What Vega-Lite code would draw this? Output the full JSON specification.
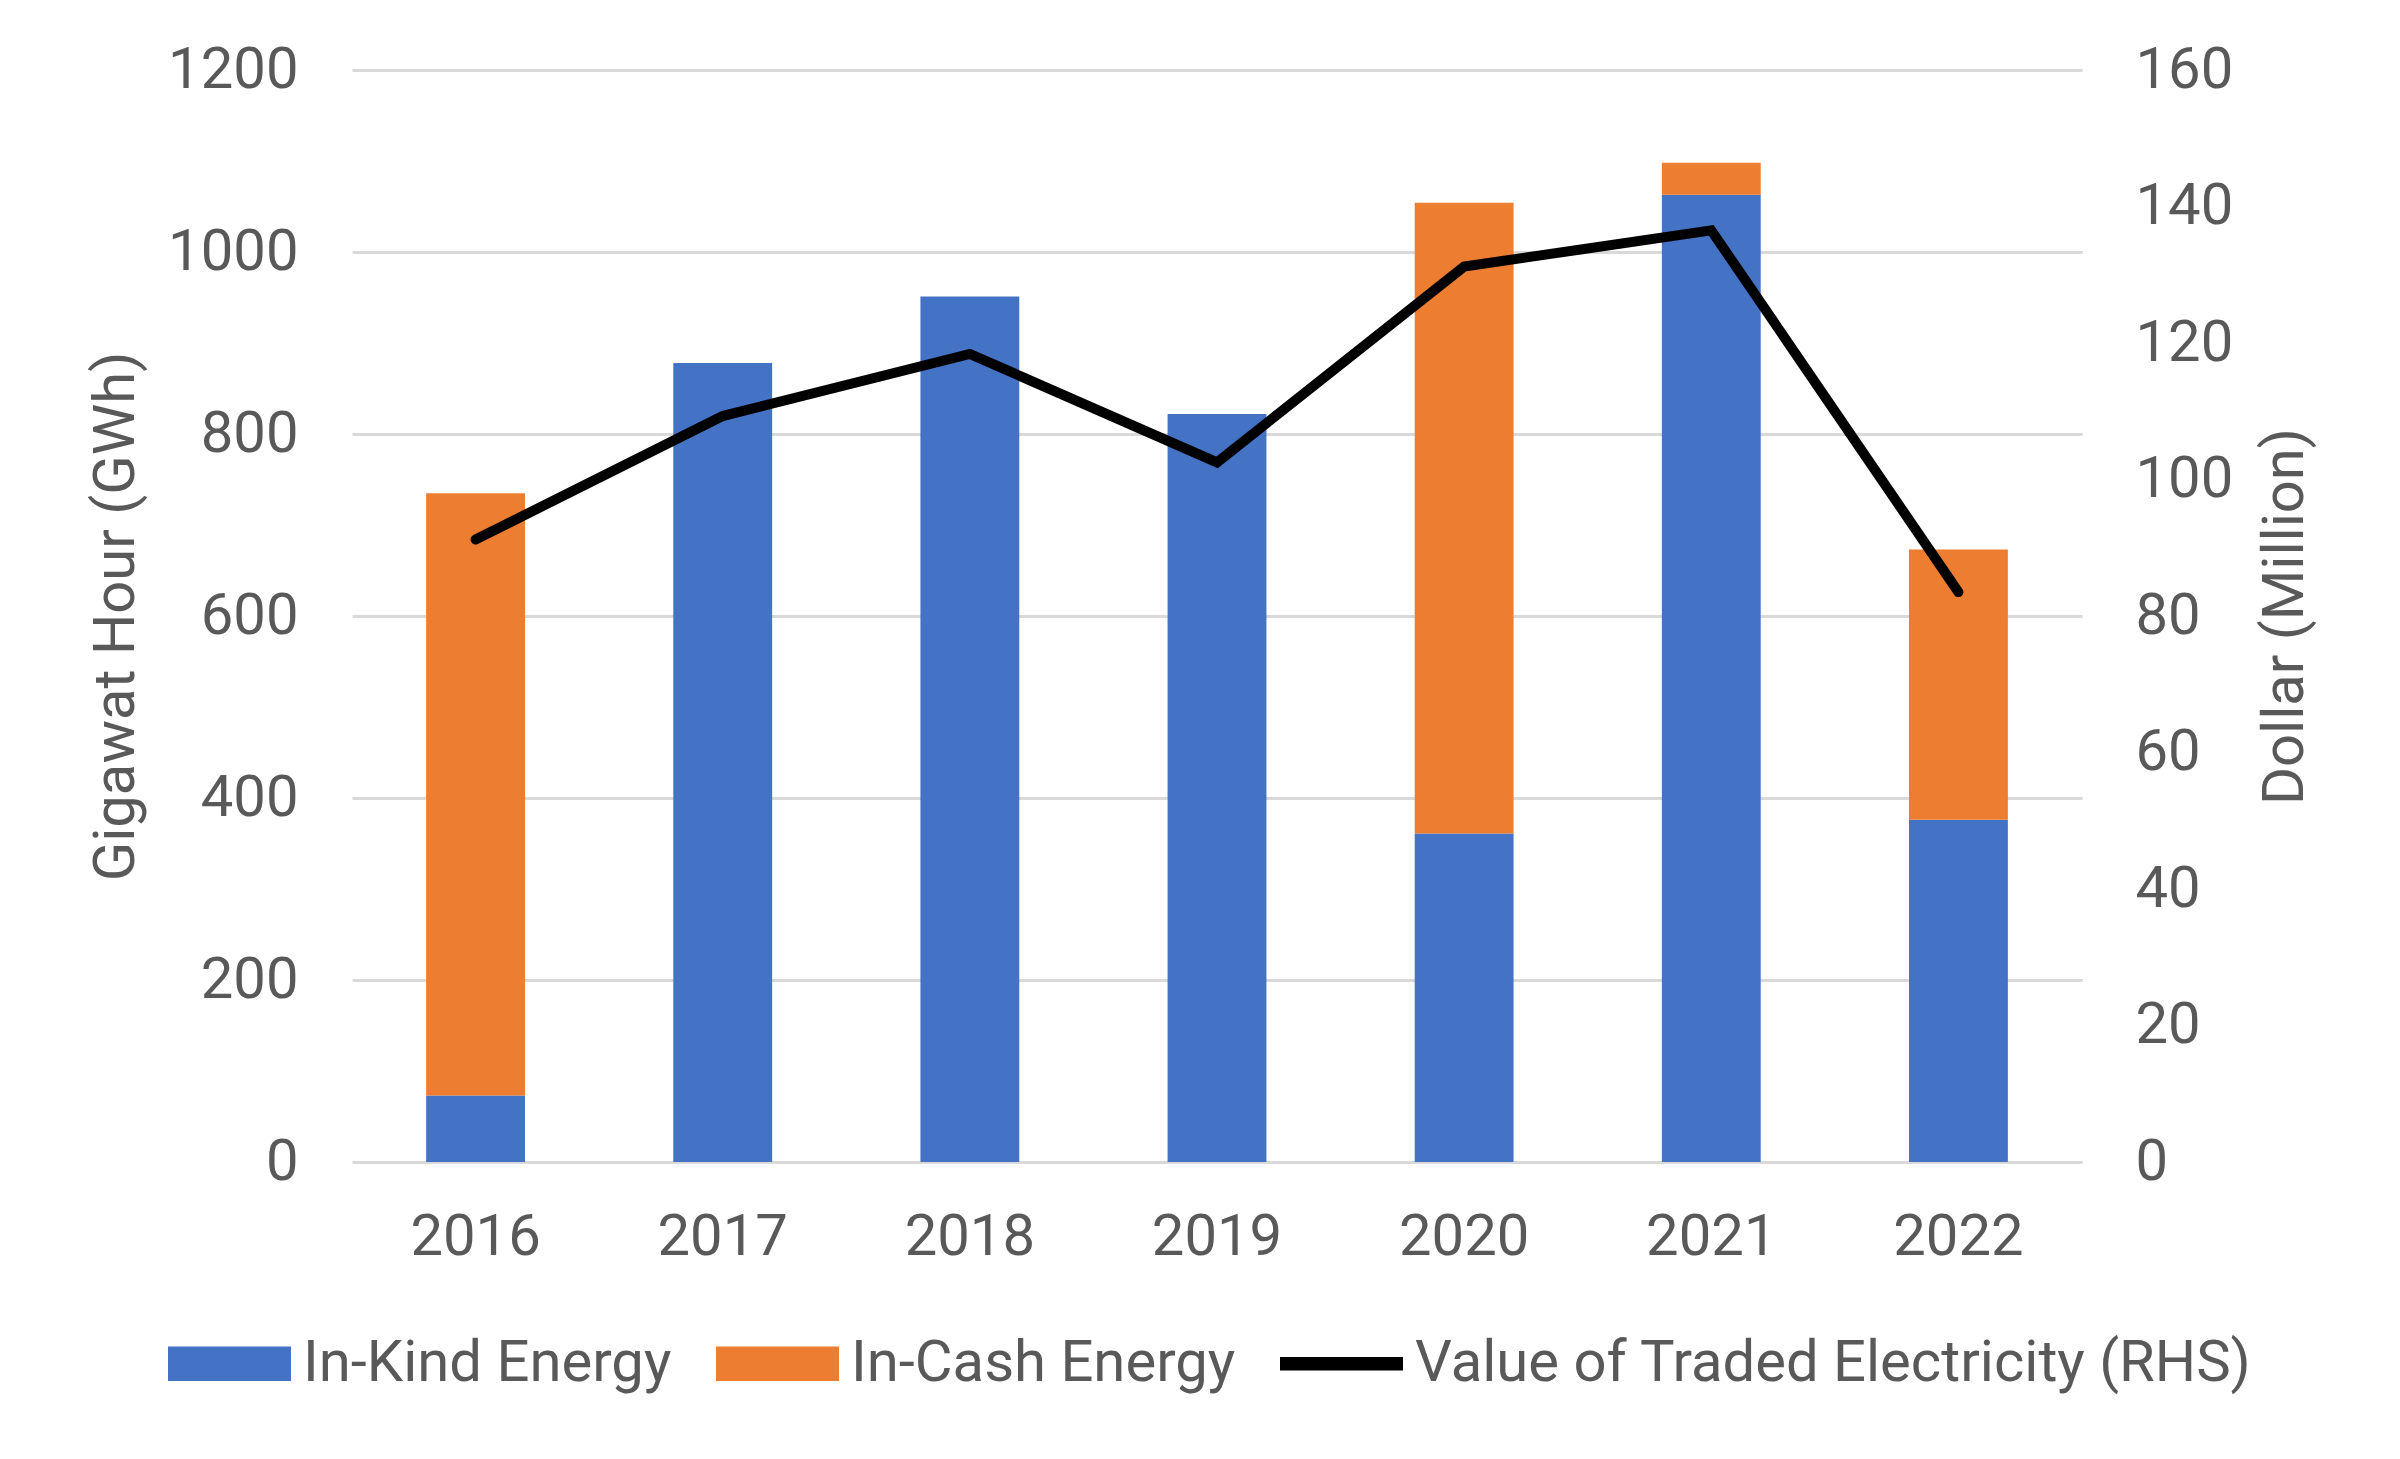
{
  "$schema": "https://vega.github.io/schema/vega-lite/v6.json",
  "width": 1730,
  "height": 1092,
  "autosize": {"type": "none"},
  "padding": {"left": 352, "top": 70, "right": 318, "bottom": 297},
  "datasets": {
    "energy": [
      {"year": "2016", "series": "In-Kind Energy", "gwh": 73},
      {"year": "2016", "series": "In-Cash Energy", "gwh": 662},
      {"year": "2017", "series": "In-Kind Energy", "gwh": 878},
      {"year": "2018", "series": "In-Kind Energy", "gwh": 951},
      {"year": "2019", "series": "In-Kind Energy", "gwh": 822},
      {"year": "2020", "series": "In-Kind Energy", "gwh": 361},
      {"year": "2020", "series": "In-Cash Energy", "gwh": 693},
      {"year": "2021", "series": "In-Kind Energy", "gwh": 1063},
      {"year": "2021", "series": "In-Cash Energy", "gwh": 35},
      {"year": "2022", "series": "In-Kind Energy", "gwh": 376},
      {"year": "2022", "series": "In-Cash Energy", "gwh": 297}
    ],
    "value": [
      {"year": "2016", "series": "Value of Traded Electricity (RHS)", "usd": 91.2},
      {"year": "2017", "series": "Value of Traded Electricity (RHS)", "usd": 109.3},
      {"year": "2018", "series": "Value of Traded Electricity (RHS)", "usd": 118.4},
      {"year": "2019", "series": "Value of Traded Electricity (RHS)", "usd": 102.5},
      {"year": "2020", "series": "Value of Traded Electricity (RHS)", "usd": 131.2},
      {"year": "2021", "series": "Value of Traded Electricity (RHS)", "usd": 136.5},
      {"year": "2022", "series": "Value of Traded Electricity (RHS)", "usd": 83.5}
    ]
  },
  "encoding": {
    "x": {
      "field": "year",
      "type": "nominal",
      "scale": {"paddingInner": 0.6, "paddingOuter": 0.3},
      "axis": {
        "title": null,
        "labelAngle": 0,
        "labelFontSize": 58,
        "labelPadding": 46,
        "domain": false,
        "ticks": false,
        "grid": false
      }
    }
  },
  "layer": [
    {
      "data": {"name": "energy"},
      "mark": {"type": "bar"},
      "encoding": {
        "y": {
          "field": "gwh",
          "type": "quantitative",
          "stack": "zero",
          "scale": {"domain": [0, 1200], "nice": false},
          "axis": {
            "orient": "left",
            "values": [0, 200, 400, 600, 800, 1000, 1200],
            "format": "d",
            "title": "Gigawat Hour (GWh)",
            "titleFontSize": 58,
            "titleFontWeight": "normal",
            "titleColor": "#595959",
            "titlePadding": 22,
            "labelFontSize": 58,
            "labelPadding": 54,
            "grid": true,
            "gridColor": "#d9d9d9",
            "gridWidth": 3,
            "domain": false,
            "ticks": false
          }
        },
        "color": {
          "field": "series",
          "type": "nominal",
          "scale": {
            "domain": ["In-Kind Energy", "In-Cash Energy", "Value of Traded Electricity (RHS)"],
            "range": ["#4472C4", "#ED7D31", "#000000"]
          },
          "legend": {
            "orient": "none",
            "legendX": -184,
            "legendY": 1232,
            "direction": "horizontal",
            "title": null,
            "symbolType": "M-1,-0.28H1V0.28H-1Z",
            "symbolSize": 15129,
            "labelFontSize": 58,
            "labelColor": "#595959",
            "labelFont": "Roboto",
            "labelLimit": 1200,
            "columnPadding": 44,
            "labelOffset": 12,
            "symbolStrokeWidth": 0,
            "symbolOpacity": 1,
            "encode": {
              "symbols": {
                "update": {
                  "shape": {"signal": "datum.value === 'Value of Traded Electricity (RHS)' ? 'M-1,-0.11H1V0.11H-1Z' : 'M-1,-0.28H1V0.28H-1Z'"},
                  "fill": {"scale": "color", "field": "value"},
                  "strokeWidth": {"value": 0},
                  "opacity": {"value": 1}
                }
              }
            }
          }
        },
        "order": {"field": "series", "sort": "descending"}
      }
    },
    {
      "data": {"name": "value"},
      "mark": {"type": "line", "strokeWidth": 10, "strokeCap": "round", "strokeJoin": "miter"},
      "encoding": {
        "y": {
          "field": "usd",
          "type": "quantitative",
          "scale": {"domain": [0, 160], "nice": false},
          "axis": {
            "orient": "right",
            "values": [0, 20, 40, 60, 80, 100, 120, 140, 160],
            "title": "Dollar (Million)",
            "titleAngle": 270,
            "titleBaseline": "top",
            "titleFontSize": 58,
            "titleFontWeight": "normal",
            "titleColor": "#595959",
            "titlePadding": 24,
            "labelFontSize": 58,
            "labelPadding": 53,
            "grid": false,
            "domain": false,
            "ticks": false
          }
        },
        "color": {"field": "series", "type": "nominal"}
      }
    }
  ],
  "resolve": {"scale": {"y": "independent"}},
  "config": {
    "font": "Roboto",
    "view": {"stroke": null},
    "axis": {"labelColor": "#595959", "labelFont": "Roboto", "titleFont": "Roboto"}
  }
}
